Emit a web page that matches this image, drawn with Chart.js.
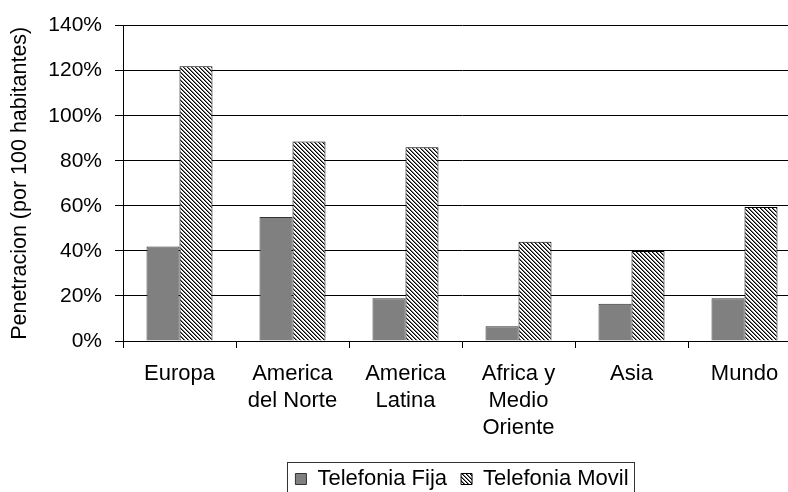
<!DOCTYPE html>
<html><head><meta charset="utf-8">
<script src="https://cdn.jsdelivr.net/npm/chart.js@4"></script>
<style>html,body{margin:0;padding:0;overflow:hidden;background:#fff}canvas{display:block}</style>
</head><body>
<canvas id="c" width="801" height="500"></canvas>
<script>
const categories = ['Europa', ['America','del Norte'], ['America','Latina'], ['Africa y','Medio','Oriente'], 'Asia', 'Mundo'];
const fijaValues = [42, 55, 19, 6.5, 16.5, 19];
const movilValues = [122, 88.5, 86, 44, 40, 59.5];
const seriesNames = ['Telefonia Fija', 'Telefonia Movil'];
const yTitle = 'Penetracion (por 100 habitantes)';

Chart.defaults.font.family = "'Liberation Sans', Arial, sans-serif";
Chart.defaults.font.size = 21;
Chart.defaults.color = '#000';

function hatch() {
  const c = document.createElement('canvas');
  c.width = 8; c.height = 8;
  const g = c.getContext('2d');
  const img = g.createImageData(8, 8);
  const tones = [0, 120, 255, 255];
  for (let y = 0; y < 8; y++) for (let x = 0; x < 8; x++) {
    const k = (((x - y) % 4) + 4) % 4;
    const v = tones[k];
    const i = (y * 8 + x) * 4;
    img.data[i] = v; img.data[i+1] = v; img.data[i+2] = v; img.data[i+3] = 255;
  }
  g.putImageData(img, 0, 0);
  return document.getElementById('c').getContext('2d').createPattern(c, 'repeat');
}

const legendBorder = {
  id: 'legendBorder',
  afterDraw(chart) {
    const lg = chart.legend;
    if (!lg || !lg.legendHitBoxes || !lg.legendHitBoxes.length) return;
    const hb = lg.legendHitBoxes;
    const last = hb[hb.length - 1];
    const left = Math.round(hb[0].left - 8);
    const right = Math.round(last.left + last.width + 5);
    const top = Math.round(lg.top + 8);
    const ctx = chart.ctx;
    ctx.save();
    ctx.strokeStyle = '#333';
    ctx.lineWidth = 1;
    ctx.strokeRect(left + 0.5, top + 0.5, right - left, 100);
    ctx.restore();
  }
};

new Chart(document.getElementById('c'), {
  type: 'bar',
  data: {
    labels: categories,
    datasets: [
      { label: seriesNames[0], data: fijaValues, backgroundColor: '#808080', borderColor: '#333', borderWidth: 1 },
      { label: seriesNames[1], data: movilValues, backgroundColor: hatch(), borderColor: '#000', borderWidth: 1 }
    ]
  },
  options: {
    responsive: false,
    animation: false,
    layout: { padding: { top: 14, left: 0, right: 0, bottom: 0 } },
    datasets: { bar: { barPercentage: 1, categoryPercentage: 0.584 } },
    plugins: {
      legend: {
        position: 'bottom', fullSize: false,
        labels: { boxWidth: 11, boxHeight: 11, padding: 14, color: '#000', font: { size: 22 } }
      },
      tooltip: { enabled: false }
    },
    scales: {
      x: {
        grid: { drawOnChartArea: false, tickLength: 7, color: '#000', offset: true },
        border: { color: '#000' },
        ticks: { padding: 12, color: '#000', maxRotation: 0, autoSkip: false, font: { size: 22, lineHeight: 1.24 } },
        afterFit(s) { s.height = 113; }
      },
      y: {
        min: 0, max: 140,
        ticks: { stepSize: 20, padding: 13, color: '#000', callback: v => v + '%' },
        grid: { color: '#000', tickLength: 8 },
        border: { color: '#000' },
        title: { display: true, text: yTitle, padding: { top: 7, bottom: 0 }, color: '#000', font: { size: 21.5 } },
        afterFit(s) { s.width = 123; }
      }
    }
  },
  plugins: [legendBorder]
});
</script>
</body></html>
